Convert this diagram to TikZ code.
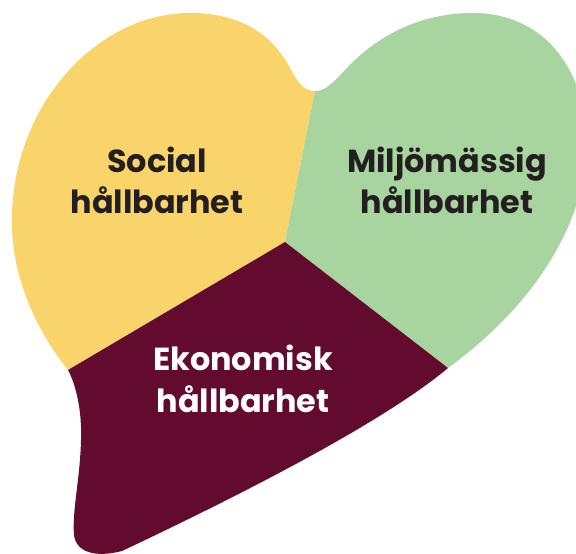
\documentclass[tikz,border=0pt]{standalone}
\usepackage{fontspec}
\newfontfamily\heartfont{Poppins}
\definecolor{socialyellow}{HTML}{F9D46B}
\definecolor{miljogreen}{HTML}{A8D4A0}
\definecolor{ekonomired}{HTML}{620B2E}
\definecolor{textdark}{HTML}{231F20}
\begin{document}
\begin{tikzpicture}[x=1bp,y=-1bp,
  hearttext/.style={align=center,anchor=base,font=\heartfont\bfseries\fontsize{32}{42}\selectfont}]
\useasboundingbox (0,0) rectangle (576,554);
\clip (0,0) rectangle (576,554);
\coordinate (notch) at (315,91);
\coordinate (mid) at (285,242);
\coordinate (left) at (68,370);
\coordinate (right) at (448,368);
\fill[socialyellow] (notch) .. controls (303,91) and (298,82) .. (290,68)
  .. controls (270,30) and (235,13) .. (190,13)
  .. controls (100,13) and (15,100) .. (12,215)
  .. controls (10,280) and (40,335) .. (left) -- (mid) -- cycle;
\fill[miljogreen] (notch) .. controls (325,91) and (332,84) .. (345,70)
  .. controls (380,32) and (425,13) .. (473,13)
  .. controls (530,13) and (572,50) .. (583,110)
  .. controls (600,190) and (555,290) .. (right) -- (mid) -- cycle;
\fill[ekonomired] (left) -- (mid) -- (right)
  .. controls (380,425) and (230,500) .. (122,551)
  .. controls (95,558) and (76,552) .. (74,535)
  .. controls (72,510) and (80,480) .. (81,440)
  .. controls (82,410) and (76,385) .. (left) -- cycle;
\node[hearttext,text=textdark] (social) at (157,214) {Social\\hållbarhet};
\node[hearttext,text=textdark] (miljo) at (447,214) {Miljömässig\\hållbarhet};
\node[hearttext,text=white] (ekonomi) at (243,412) {Ekonomisk\\hållbarhet};
\end{tikzpicture}
\end{document}
